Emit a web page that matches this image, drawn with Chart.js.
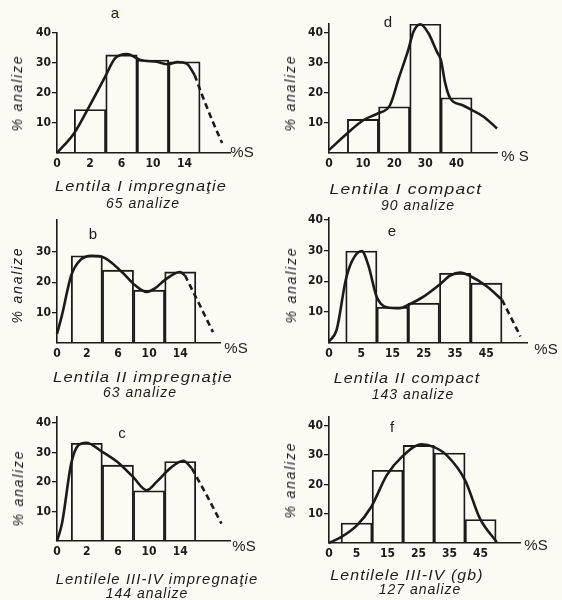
<!DOCTYPE html>
<html>
<head>
<meta charset="utf-8">
<script src="https://cdn.jsdelivr.net/npm/chart.js@4.4.1/dist/chart.umd.min.js"></script>
<style>
  html, body { margin: 0; padding: 0; background: #fbfbf3; }
  #fig { position: relative; width: 562px; height: 600px; overflow: hidden; background: #fbfbf3;
         font-family: 'Liberation Sans', 'DejaVu Sans', sans-serif; color: #1b1b1b; }
  .t { position: absolute; white-space: nowrap; transform: translate(-50%, -50%); line-height: 1; }
  .letter { font-size: 15px; }
  .ytitle { font-size: 14px; font-style: italic; letter-spacing: 1.8px; }
  .xtitle { font-size: 15px; }
  .cap { font-size: 14px; font-style: italic; letter-spacing: 1px; }
</style>
</head>
<body>
<div id="fig"></div>
<script>
// ================= DATA =================
const panelLetters  = ['a', 'd', 'b', 'e', 'c', 'f'];
const captionLine1  = ['Lentila I impregnaţie', 'Lentila I compact', 'Lentila II impregnaţie',
                       'Lentila II compact', 'Lentilele III-IV impregnaţie', 'Lentilele III-IV (gb)'];
const captionLine2  = ['65 analize', '90 analize', '63 analize', '143 analize', '144 analize', '127 analize'];
const yAxisTitle    = '% analize';
const xAxisTitles   = ['%S', '% S', '%S', '%S', '%S', '%S'];

// a – Lentila I impregnatie
const xTickLabelsA = ['0', '2', '6', '10', '14'];
const yTicksA      = [10, 20, 30, 40];
const classesA     = [2, 6, 10, 14];
const percentA     = [14.5, 32.7, 31, 30.4];
const curveXA      = [-2.2, 0, 1.65, 3.9, 5.2, 6.7, 8.4, 10.5, 11.9, 13.1, 14.3, 15.3];
const curveYA      = [0, 6.7, 14.3, 25.3, 31.6, 33, 31, 30.4, 29.6, 30.3, 29.8, 26];
const dashXA       = [15.3, 16.3, 17.6, 18.8];
const dashYA       = [26, 19, 10.5, 3.3];

// d – Lentila I compact
const xTickLabelsD = ['0', '10', '20', '30', '40'];
const yTicksD      = [10, 20, 30, 40];
const classesD     = [10, 20, 30, 40];
const percentD     = [11.2, 15.4, 43, 18.4];
const curveXD      = [-0.9, 5, 10.2, 14.8, 18.7, 21.5, 24.5, 26.2, 28.4, 31, 33.7, 35, 36.4, 38, 41.8, 45, 48.7, 53];
const curveYD      = [1, 6.6, 11, 13.2, 16, 25, 34.3, 40.4, 42.9, 39.9, 33.8, 31, 23.2, 18.2, 16, 14.3, 12.1, 8.2];
const dashXD       = [];
const dashYD       = [];

// b – Lentila II impregnatie
const xTickLabelsB = ['0', '2', '6', '10', '14'];
const yTicksB      = [10, 20, 30];
const classesB     = [2, 6, 10, 14];
const percentB     = [28.7, 24, 17.4, 23.4];
const curveXB      = [-1.83, -1.2, 0, 1.15, 2.6, 3.93, 6.5, 8.2, 9.69, 10.75, 12.0, 13.95, 14.6];
const curveYB      = [3, 9.1, 22.3, 27.3, 28.7, 28.4, 23.4, 19, 16.8, 18, 20.7, 23.4, 22.3];
const dashXB       = [14.6, 16.4, 18.2];
const dashYB       = [22.3, 13, 3.6];

// e – Lentila II compact
const xTickLabelsE = ['0', '5', '15', '25', '35', '45'];
const yTicksE      = [10, 20, 30, 40];
const classesE     = [5, 15, 25, 35, 45];
const percentE     = [29.8, 11.6, 12.9, 22.6, 19.4];
const curveXE      = [-5.35, -2.9, 0, 1.9, 5.1, 7.2, 9.9, 13.1, 17.4, 20.1, 24.9, 29.9, 33.4, 36.6, 39.8, 45.2, 50];
const curveYE      = [0.5, 4.3, 20.4, 26.3, 29.8, 25.3, 15, 11.6, 11.3, 12.4, 15, 18.8, 21.8, 22.8, 21.7, 18.3, 14];
const dashXE       = [50, 53, 55.9];
const dashYE       = [14, 8, 2.1];

// c – Lentilele III-IV impregnatie
const xTickLabelsC = ['0', '2', '6', '10', '14'];
const yTicksC      = [10, 20, 30, 40];
const classesC     = [2, 6, 10, 14];
const percentC     = [33.1, 25.7, 17, 26.9];
const curveXC      = [-1.83, -1.19, 0, 0.94, 1.92, 3.94, 5.86, 7.91, 9.7, 11, 12.7, 14.4, 15.5];
const curveYC      = [0, 5.9, 26.3, 32.5, 33.3, 30.3, 26.9, 21.8, 17.2, 20.1, 24.6, 27.2, 24.6];
const dashXC       = [15.5, 17.4, 19.3];
const dashYC       = [24.6, 15.5, 5.9];

// f – Lentilele III-IV (gb)
const xTickLabelsF = ['0', '5', '15', '25', '35', '45'];
const yTicksF      = [10, 20, 30, 40];
const classesF     = [5, 15, 25, 35, 45];
const percentF     = [6.8, 24.8, 33.3, 30.7, 8];
const curveXF      = [-3.9, 0, 5.1, 9.7, 14.7, 19.6, 26, 29.8, 34.1, 40, 44.8, 50.2];
const curveYF      = [0, 2, 6, 12.3, 23.1, 29.4, 33.7, 32.8, 29.9, 21.4, 8.3, 0.3];
const dashXF       = [];
const dashYF       = [];

// ================= LAYOUT (positions / sizes, kept apart from data) =================
const layouts = [
  { axisX: 57,  axisY: 153, topPx: 33,  rightPx: 230, xMin: -2.2,  xMax: 19.8, yMax: 40,
    letter: [115, 12], ytitle: [17, 93],  xtitle: [242, 151], cap1: [141, 186, 172], cap2: [143, 203] },
  { axisX: 329, axisY: 153, topPx: 24,  rightPx: 497, xMin: -0.9,  xMax: 53,   yMax: 43,
    letter: [388, 21], ytitle: [290, 93], xtitle: [515, 155], cap1: [406, 189, 153], cap2: [418, 205] },
  { axisX: 57,  axisY: 343, topPx: 220, rightPx: 220, xMin: -1.83, xMax: 19.1, yMax: 40.5,
    letter: [93, 233], ytitle: [17, 285], xtitle: [236, 347], cap1: [143, 377, 180], cap2: [140, 392] },
  { axisX: 329, axisY: 343, topPx: 218, rightPx: 527, xMin: -5.35, xMax: 58,   yMax: 40.5,
    letter: [392, 230], ytitle: [291, 285], xtitle: [546, 348], cap1: [407, 378, 147], cap2: [413, 394] },
  { axisX: 57,  axisY: 541, topPx: 417, rightPx: 230, xMin: -1.83, xMax: 20.4, yMax: 42,
    letter: [122, 432], ytitle: [18, 488], xtitle: [244, 545], cap1: [157, 579, 203], cap2: [147, 593] },
  { axisX: 329, axisY: 543, topPx: 417, rightPx: 520, xMin: -3.9,  xMax: 57.7, yMax: 43,
    letter: [392, 426], ytitle: [290, 480], xtitle: [536, 544], cap1: [407, 575, 153], cap2: [420, 589] }
];

const panelData = [
  { xt: xTickLabelsA, yt: yTicksA, cls: classesA, pct: percentA, cx: curveXA, cy: curveYA, dx: dashXA, dy: dashYA },
  { xt: xTickLabelsD, yt: yTicksD, cls: classesD, pct: percentD, cx: curveXD, cy: curveYD, dx: dashXD, dy: dashYD },
  { xt: xTickLabelsB, yt: yTicksB, cls: classesB, pct: percentB, cx: curveXB, cy: curveYB, dx: dashXB, dy: dashYB },
  { xt: xTickLabelsE, yt: yTicksE, cls: classesE, pct: percentE, cx: curveXE, cy: curveYE, dx: dashXE, dy: dashYE },
  { xt: xTickLabelsC, yt: yTicksC, cls: classesC, pct: percentC, cx: curveXC, cy: curveYC, dx: dashXC, dy: dashYC },
  { xt: xTickLabelsF, yt: yTicksF, cls: classesF, pct: percentF, cx: curveXF, cy: curveYF, dx: dashXF, dy: dashYF }
];

// ================= RENDERING =================
const ink = '#1b1b1b';
const tickFont = { family: "'Liberation Sans Narrow','DejaVu Sans Condensed','Liberation Sans',sans-serif", size: 12, weight: 'bold' };
const fig = document.getElementById('fig');

function addText(txt, x, y, cls, fitWidth, rotate) {
  const el = document.createElement('div');
  el.className = 't ' + cls;
  el.textContent = txt;
  el.style.left = x + 'px';
  el.style.top = y + 'px';
  fig.appendChild(el);
  let tf = 'translate(-50%, -50%)';
  if (rotate) tf += ' rotate(-90deg)';
  if (fitWidth) {
    const w = el.offsetWidth;
    if (w > 0) tf += ' scaleX(' + (fitWidth / w).toFixed(3) + ')';
  }
  el.style.transform = tf;
}

function buildPanel(i) {
  const d = panelData[i], L = layouts[i];
  const Yw = 40, Xh = 24, padTop = 10, padRight = 6;
  const w = Math.round(Yw + (L.rightPx - L.axisX) + padRight);
  const h = Math.round(padTop + (L.axisY - L.topPx) + Xh);
  const cv = document.createElement('canvas');
  cv.width = w; cv.height = h;
  cv.style.cssText = 'position:absolute;left:' + (L.axisX - Yw) + 'px;top:' + (L.topPx - padTop) +
                     'px;width:' + w + 'px;height:' + h + 'px;';
  fig.appendChild(cv);

  // first tick label ("0") sits at the start of the axis, the others at their values
  const xTickVals = d.xt.map((t, k) => k === 0 ? L.xMin : Number(t));

  const datasets = [
    { type: 'bar', data: d.cls.map((x, k) => ({ x: x, y: d.pct[k] })),
      backgroundColor: 'rgba(0,0,0,0)', borderColor: ink, borderWidth: 1.2,
      barThickness: 'flex', categoryPercentage: 1, barPercentage: 1, order: 2 },
    { type: 'line', data: d.cx.map((x, k) => ({ x: x, y: d.cy[k] })),
      borderColor: ink, borderWidth: 2.6, pointRadius: 0, fill: false,
      cubicInterpolationMode: 'monotone', clip: false, order: 1 }
  ];
  if (d.dx.length) {
    datasets.push({ type: 'line', data: d.dx.map((x, k) => ({ x: x, y: d.dy[k] })),
      borderColor: ink, borderWidth: 2.6, borderDash: [6, 4], pointRadius: 0, fill: false,
      cubicInterpolationMode: 'monotone', clip: false, order: 1 });
  }

  new Chart(cv.getContext('2d'), {
    type: 'bar',
    data: { datasets: datasets },
    options: {
      responsive: false, animation: false, devicePixelRatio: 1,
      layout: { padding: { top: padTop, right: padRight, left: 0, bottom: 0 } },
      plugins: { legend: { display: false }, tooltip: { enabled: false }, title: { display: false } },
      scales: {
        x: {
          type: 'linear', min: L.xMin, max: L.xMax, offset: false,
          afterBuildTicks: s => { s.ticks = xTickVals.map(v => ({ value: v })); },
          afterFit: s => { s.height = Xh; },
          ticks: { autoSkip: false, maxRotation: 0, padding: 4, color: ink, font: tickFont,
                   callback: (v, idx) => d.xt[idx] },
          grid: { display: false, drawTicks: false, offset: false },
          border: { display: true, color: ink, width: 1.6 }
        },
        y: {
          type: 'linear', min: 0, max: L.yMax,
          afterBuildTicks: s => { s.ticks = d.yt.map(v => ({ value: v })); },
          afterFit: s => { s.width = Yw; },
          ticks: { padding: 1, color: ink, font: tickFont, callback: v => String(v) },
          grid: { display: true, drawOnChartArea: false, drawTicks: true, tickLength: 5, color: ink, lineWidth: 1.3 },
          border: { display: true, color: ink, width: 1.6 }
        }
      }
    }
  });

  addText(panelLetters[i], L.letter[0], L.letter[1], 'letter');
  addText(yAxisTitle, L.ytitle[0], L.ytitle[1], 'ytitle', 0, true);
  addText(xAxisTitles[i], L.xtitle[0], L.xtitle[1], 'xtitle');
  addText(captionLine1[i], L.cap1[0], L.cap1[1], 'cap', L.cap1[2]);
  addText(captionLine2[i], L.cap2[0], L.cap2[1], 'cap');
}

for (let i = 0; i < 6; i++) buildPanel(i);
</script>
</body>
</html>
